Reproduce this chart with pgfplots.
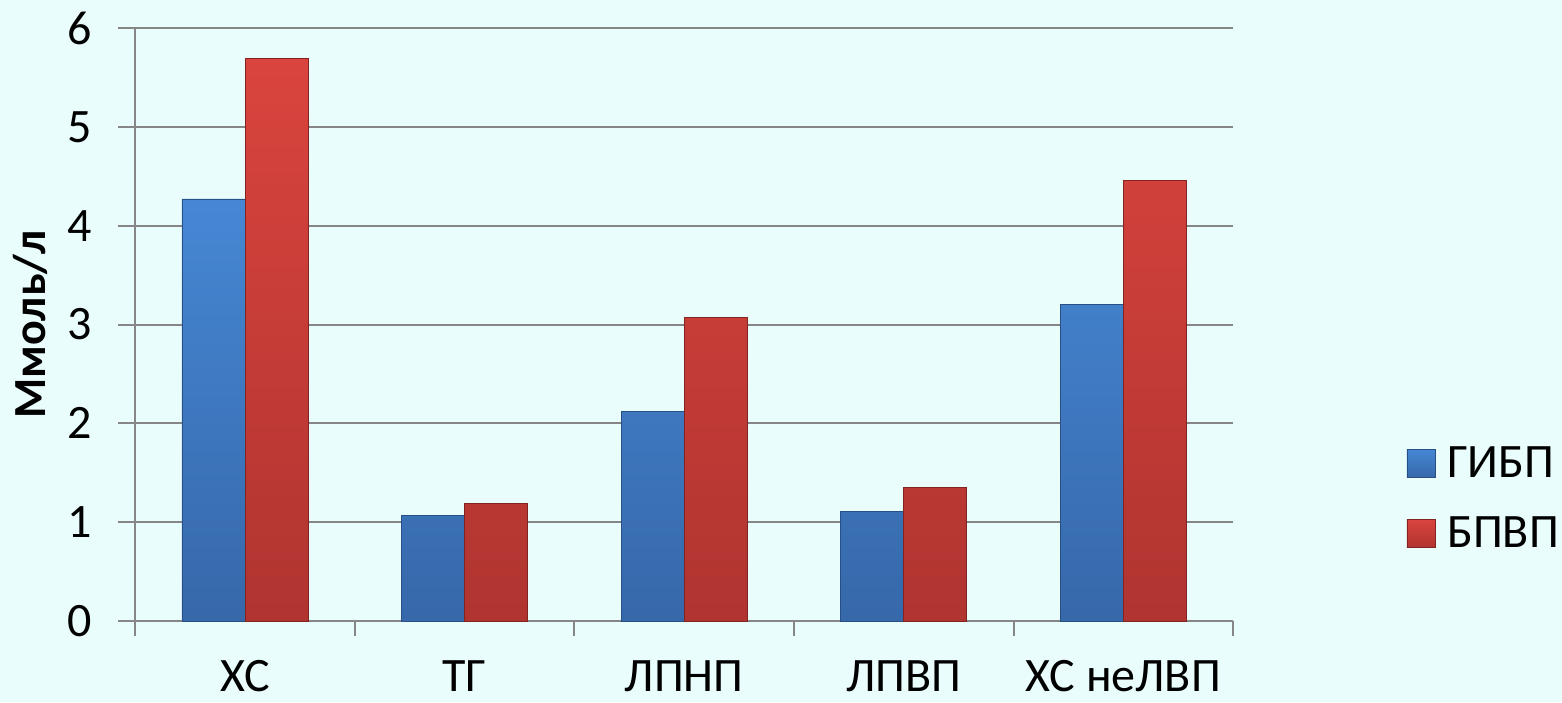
\documentclass[border=0pt]{standalone}
\usepackage{fontspec}
\setmainfont{Carlito}
\usepackage{pgfplots}
\pgfplotsset{compat=1.18}

\definecolor{bgcyan}{RGB}{233,253,252}
\definecolor{gridgray}{RGB}{134,134,134}
\definecolor{bluetop}{RGB}{70,135,212}
\definecolor{bluebot}{RGB}{54,104,170}
\definecolor{blueedge}{RGB}{40,80,135}
\definecolor{redtop}{RGB}{218,68,62}
\definecolor{redbot}{RGB}{176,52,48}
\definecolor{rededge}{RGB}{130,35,32}

\begin{document}
\begin{tikzpicture}
% canvas: 781 x 351 pt
\path[use as bounding box, fill=bgcyan] (0pt,0pt) rectangle (781pt,351pt);
\begin{axis}[
  ybar, bar width=0.287,
  at={(122.5pt,40.5pt)}, anchor=origin,
  scale only axis,
  width=549pt, height=296.5pt,
  xmin=-0.5, xmax=4.5,
  ymin=0, ymax=6,
  ytick={0,1,...,6},
  xtick={0,1,2,3,4},
  xticklabels={ХС, ТГ, ЛПНП, ЛПВП, ХС неЛВП},
  minor xtick={-0.5,0.5,1.5,2.5,3.5,4.5},
  axis x line*=bottom,
  axis y line*=left,
  axis line style={-, draw=gridgray, line width=1pt},
  ymajorgrids,
  grid style={draw=gridgray, line width=1pt},
  tick align=outside,
  x tick style={draw=none},
  minor x tick style={draw=gridgray, line width=1pt},
  y tick style={draw=gridgray, line width=1pt},
  major tick length=8.5pt,
  minor tick length=7.5pt,
  /pgf/number format/assume math mode=true,
  tick label style={font=\fontsize{24}{28}\selectfont, text=black},
  yticklabel style={xshift=-9.5pt},
  xticklabel style={inner sep=0pt, text depth=0pt, yshift=-11pt},
  ylabel={\bfseries Ммоль/л},
  every axis y label/.style={at={(rel axis cs:-0.0956,0.5)}, rotate=90, anchor=center, font=\fontsize{23}{27}\selectfont},
  legend style={at={(rel axis cs:1.152,0.2066)}, anchor=west, draw=none, fill=none,
    font=\fontsize{24}{28}\selectfont, row sep=14pt,
    /tikz/every odd column/.append style={column sep=4pt}},
  legend cell align=left,
  legend image code/.code={\draw[#1, bar shift=0pt] (0pt,-7pt) rectangle (14pt,7pt);},
]
\addplot[bar shift=-0.1435, top color=bluetop, bottom color=bluebot, draw=blueedge, line width=0.4pt]
  coordinates {(0,4.27) (1,1.07) (2,2.12) (3,1.11) (4,3.20)};
\addlegendentry{ГИБП}
\addplot[bar shift=0.1435, top color=redtop, bottom color=redbot, draw=rededge, line width=0.4pt]
  coordinates {(0,5.69) (1,1.19) (2,3.07) (3,1.35) (4,4.46)};
\addlegendentry{БПВП}
\end{axis}
\end{tikzpicture}
\end{document}
